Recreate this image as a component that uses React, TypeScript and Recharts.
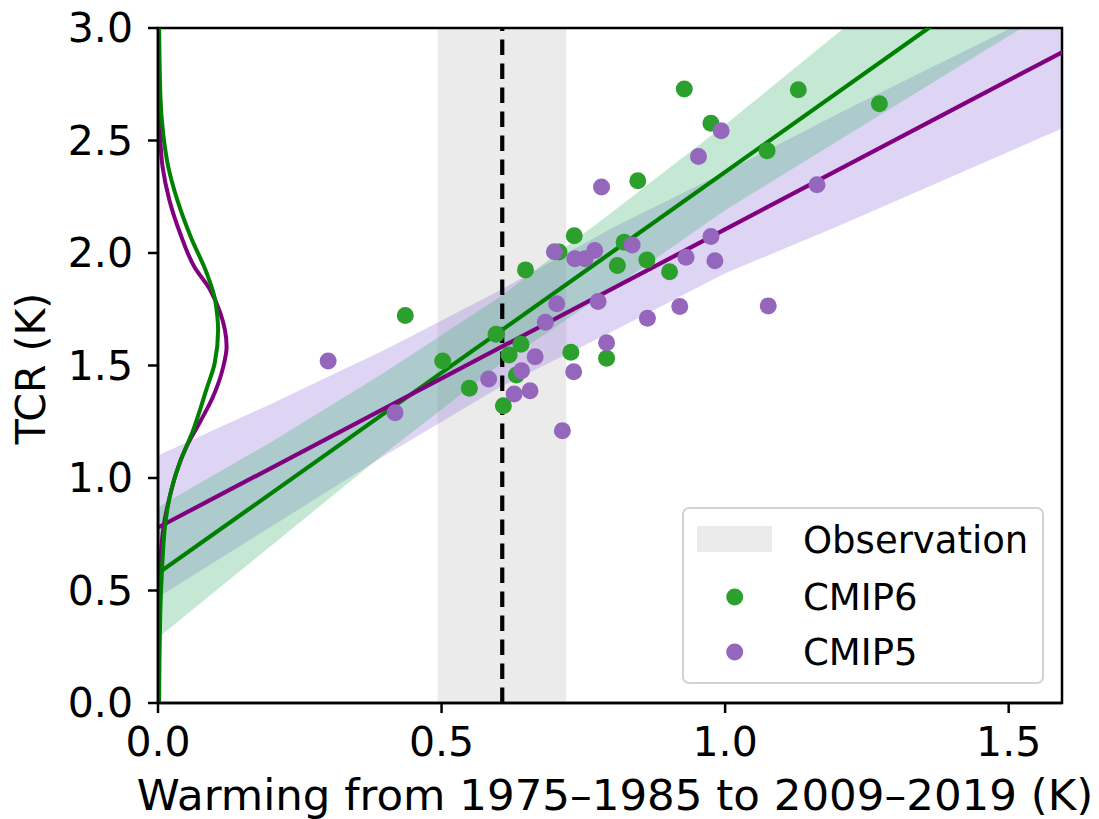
import React from 'react';
import {
  Area,
  ComposedChart,
  Line,
  ReferenceArea,
  ReferenceLine,
  Scatter,
  XAxis,
  YAxis,
} from 'recharts';

const FONT = '"DejaVu Sans", "Liberation Sans", sans-serif';

const xTicks = [0, 0.5, 1.0, 1.5];
const yTicks = [0, 0.5, 1.0, 1.5, 2.0, 2.5, 3.0];

// model points, warming (K) vs TCR (K)
const cmip6X = [0.436, 0.502, 0.549, 0.596, 0.609, 0.619, 0.64, 0.632, 0.648, 0.707, 0.728, 0.734, 0.791, 0.81, 0.822, 0.846, 0.862, 0.902, 0.928, 0.975, 1.074, 1.129, 1.272];
const cmip6Y = [1.722, 1.52, 1.399, 1.639, 1.321, 1.547, 1.594, 1.458, 1.925, 2.004, 1.559, 2.077, 1.532, 1.944, 2.048, 2.321, 1.969, 1.917, 2.729, 2.577, 2.455, 2.726, 2.663];

const cmip5X = [0.3, 0.418, 0.583, 0.628, 0.641, 0.656, 0.665, 0.683, 0.703, 0.713, 0.733, 0.699, 0.735, 0.753, 0.77, 0.776, 0.791, 0.836, 0.863, 0.92, 0.931, 0.975, 0.982, 1.076, 0.782, 0.953, 0.993, 1.162];
const cmip5Y = [1.52, 1.29, 1.44, 1.373, 1.477, 1.388, 1.539, 1.692, 1.774, 1.21, 1.472, 2.006, 1.974, 1.974, 2.011, 1.784, 1.601, 2.036, 1.71, 1.762, 1.981, 2.073, 1.966, 1.765, 2.293, 2.429, 2.543, 2.303];

// uncertainty bands of the fits
const bandX = [0, 0.2, 0.4, 0.6, 0.8, 1.0, 1.2, 1.4, 1.6];
const cmip6Low = [0.29, 0.7, 1.11, 1.5, 1.84, 2.19, 2.5, 2.81, 3.12];
const cmip6High = [0.87, 1.16, 1.47, 1.8, 2.18, 2.57, 2.98, 3.38, 3.78];
const cmip5Low = [0.47, 0.785, 1.1, 1.4, 1.65, 1.91, 2.12, 2.34, 2.56];
const cmip5High = [1.1, 1.33, 1.57, 1.83, 2.11, 2.36, 2.62, 2.87, 3.12];

// fitted lines
const fitX = [0, 1.6];
const cmip6Fit = [0.576, 3.43];
const cmip5Fit = [0.78, 2.9];

// TCR distributions drawn along the y axis
const cmip6KdeY = [0, 0.4, 0.62, 0.77, 0.915, 1.066, 1.213, 1.391, 1.511, 1.658, 1.733, 1.8, 1.91, 2.07, 2.236, 2.384, 2.533, 2.68, 3.0];
const cmip6KdeX = [0.002, 0.004, 0.0076, 0.0117, 0.0205, 0.038, 0.062, 0.085, 0.1, 0.106, 0.104, 0.1, 0.086, 0.058, 0.034, 0.018, 0.009, 0.0045, 0.002];
const cmip5KdeY = [0, 0.546, 0.693, 0.813, 0.915, 1.022, 1.138, 1.244, 1.361, 1.494, 1.583, 1.658, 1.733, 1.836, 1.939, 2.088, 2.236, 2.384, 2.533, 2.75, 3.0];
const cmip5KdeX = [0.001, 0.0029, 0.0058, 0.0117, 0.0205, 0.032, 0.05, 0.073, 0.097, 0.115, 0.121, 0.118, 0.11, 0.092, 0.064, 0.039, 0.02, 0.008, 0.0035, 0.0015, 0.001];

const obsLow = 0.493;
const obsHigh = 0.72;
const obsMean = 0.607;

const xMax = 1.594;

const bandRows = bandX.map((x, i) => ({
  x,
  g: [cmip6Low[i], cmip6High[i]],
  p: [cmip5Low[i], cmip5High[i]],
}));
const pts = (xs: number[], ys: number[]) => xs.map((x, i) => ({ x, y: ys[i] }));
const cmip6Points = pts(cmip6X, cmip6Y);
const cmip5Points = pts(cmip5X, cmip5Y);
const cmip6Line = pts(fitX, cmip6Fit);
const cmip5Line = pts(fitX, cmip5Fit);
const cmip6Kde = pts(cmip6KdeX, cmip6KdeY);
const cmip5Kde = pts(cmip5KdeX, cmip5KdeY);

const YTick = (props: any) => {
  const { x, y, payload } = props;
  return (
    <text x={x} y={y} textAnchor="end" dominantBaseline="central" fontSize={41} fontFamily={FONT} fill="#000">
      {Number(payload.value).toFixed(1)}
    </text>
  );
};

const XTick = (props: any) => {
  const { x, y, payload } = props;
  return (
    <text x={x} y={y} dy={41} textAnchor="middle" fontSize={41} fontFamily={FONT} fill="#000">
      {Number(payload.value).toFixed(1)}
    </text>
  );
};

const XTitle = (props: any) => {
  const vb = props.viewBox || {};
  return (
    <text x={vb.x + vb.width / 2 + 5} y={vb.y + 107} textAnchor="middle" fontSize={43.5} fontFamily={FONT} fill="#000">
      Warming from 1975–1985 to 2009–2019 (K)
    </text>
  );
};

const YTitle = (props: any) => {
  const vb = props.viewBox || {};
  const cx = vb.x + 45;
  const cy = vb.y + vb.height / 2 + 3;
  return (
    <text x={cx} y={cy} transform={`rotate(-90 ${cx} ${cy})`} textAnchor="middle" fontSize={41} fontFamily={FONT} fill="#000">
      TCR (K)
    </text>
  );
};

const dot = (color: string) => (props: any) => <circle cx={props.cx} cy={props.cy} r={8.5} fill={color} />;

function LegendBox() {
  return (
    <svg width={364} height={179} style={{ position: 'absolute', left: 681, top: 506 }}>
      <rect x={2} y={2} width={360} height={175} rx={6} fill="rgba(255,255,255,0.8)" stroke="#d3d3d3" strokeWidth={2} />
      <rect x={16} y={20} width={75} height={26} fill="#ebebeb" />
      <text x={122} y={47} fontSize={37} fontFamily={FONT} fill="#000">Observation</text>
      <circle cx={53.7} cy={91} r={8.5} fill="#2ca02c" />
      <text x={122} y={104} fontSize={37} fontFamily={FONT} fill="#000">CMIP6</text>
      <circle cx={53.7} cy={146} r={8.5} fill="#9467bd" />
      <text x={122} y={159} fontSize={37} fontFamily={FONT} fill="#000">CMIP5</text>
    </svg>
  );
}

export default function App() {
  return (
    <div style={{ position: 'absolute', left: 0, top: 0, width: 1099, height: 819, background: '#fff' }}>
      <ComposedChart width={1099} height={819} data={bandRows} margin={{ top: 28, right: 37, bottom: 0, left: 0 }}>
        <XAxis
          dataKey="x"
          type="number"
          domain={[0, xMax]}
          allowDataOverflow
          ticks={xTicks}
          height={116}
          tickSize={10}
          tickMargin={2}
          tick={<XTick />}
          axisLine={{ stroke: '#000', strokeWidth: 2.5 }}
          tickLine={{ stroke: '#000', strokeWidth: 2.5 }}
          label={<XTitle />}
        />
        <YAxis
          type="number"
          domain={[0, 3]}
          allowDataOverflow
          ticks={yTicks}
          width={158}
          tickSize={10}
          tickMargin={15}
          tick={<YTick />}
          axisLine={{ stroke: '#000', strokeWidth: 2.5 }}
          tickLine={{ stroke: '#000', strokeWidth: 2.5 }}
          label={<YTitle />}
        />

        <ReferenceArea x1={obsLow} x2={obsHigh} y1={0} y2={3} fill="#ebebeb" fillOpacity={1} stroke="none" />
        <Area dataKey="p" type="linear" fill="mediumpurple" fillOpacity={0.3} stroke="none" isAnimationActive={false} />
        <Area dataKey="g" type="linear" fill="mediumseagreen" fillOpacity={0.3} stroke="none" isAnimationActive={false} />
        <ReferenceLine x={obsMean} stroke="#000" strokeWidth={4.2} strokeDasharray="15.5 8.5" />

        <Line data={cmip6Line} dataKey="y" type="linear" stroke="#008000" strokeWidth={4.2} dot={false} isAnimationActive={false} />
        <Line data={cmip5Line} dataKey="y" type="linear" stroke="#800080" strokeWidth={4.2} dot={false} isAnimationActive={false} />
        <Line data={cmip5Kde} dataKey="y" type="monotoneY" stroke="#800080" strokeWidth={4} dot={false} isAnimationActive={false} />
        <Line data={cmip6Kde} dataKey="y" type="monotoneY" stroke="#008000" strokeWidth={4} dot={false} isAnimationActive={false} />

        <Scatter data={cmip6Points} dataKey="y" shape={dot('#2ca02c')} isAnimationActive={false} />
        <Scatter data={cmip5Points} dataKey="y" shape={dot('#9467bd')} isAnimationActive={false} />

        <ReferenceArea x1={0} x2={xMax} y1={0} y2={3} fill="none" stroke="#000" strokeWidth={2.5} />
      </ComposedChart>
      <LegendBox />
    </div>
  );
}
